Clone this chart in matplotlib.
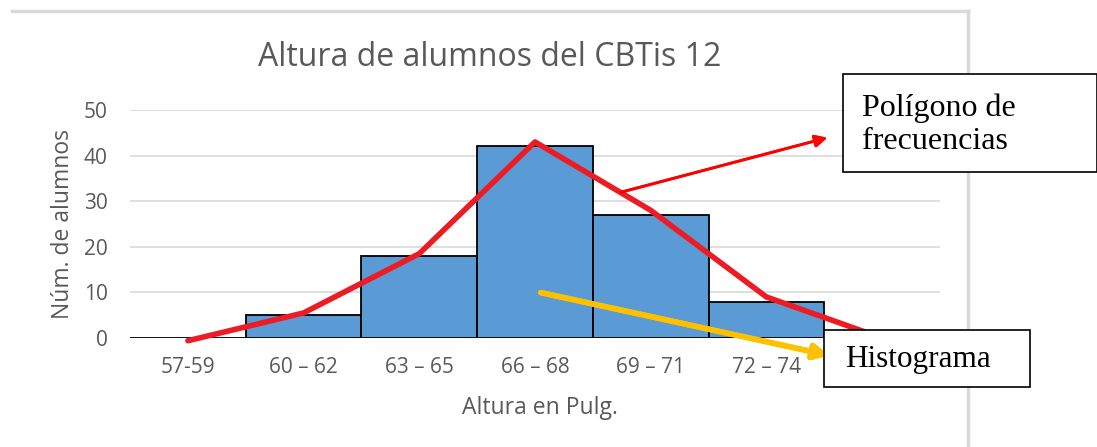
import matplotlib.pyplot as plt
from matplotlib.lines import Line2D

# datos
categorias = ["57-59", "60 – 62", "63 – 65", "66 – 68", "69 – 71", "72 – 74", ""]
frecuencias = [0, 5, 18, 42, 27, 8, 0]
poligono = [-0.6, 5.5, 18.5, 43, 28, 9, 0]

W, H = 1097, 447
fig = plt.figure(figsize=(W / 100, H / 100), dpi=100)
fig.patch.set_facecolor("white")

def fx(px):
    return px / W

def fy(py):
    return 1 - py / H

ax = fig.add_axes([fx(130), fy(338), fx(940) - fx(130), fy(110) - fy(338)])
gris = "#595959"
x = list(range(len(categorias)))

ax.bar(x, frecuencias, width=1.0, color="#5B9BD5", edgecolor="black", linewidth=1.3, zorder=2)
ax.plot(x, poligono, color="#ED1C24", linewidth=4, zorder=3, clip_on=False, solid_capstyle="round")

ax.set_xlim(-0.5, 6.5)
ax.set_ylim(0, 50)
ax.set_yticks([0, 10, 20, 30, 40, 50])
ax.set_xticks(x)
ax.set_xticklabels(categorias)
ax.grid(axis="y", color="#D9D9D9", linewidth=1.2, zorder=0)
ax.set_axisbelow(True)
for s in ax.spines.values():
    s.set_visible(False)
ax.tick_params(length=0, colors=gris, labelsize=15)
ax.tick_params(axis="x", pad=14)
ax.tick_params(axis="y", pad=16)
for lbl in ax.get_xticklabels() + ax.get_yticklabels():
    lbl.set_fontfamily("Open Sans")

fig.text(fx(63), fy(224), "Núm. de alumnos", ha="center", va="center", rotation=90,
         fontsize=16.5, color=gris, family="Open Sans")
fig.text(fx(540), fy(408), "Altura en Pulg.", ha="center", va="center",
         fontsize=16.5, color=gris, family="Open Sans")
fig.text(fx(490), fy(57), "Altura de alumnos del CBTis 12", ha="center", va="center",
         fontsize=23, color=gris, family="Open Sans")

# marco del gráfico
fig.add_artist(Line2D([fx(12), fx(968)], [fy(11), fy(11)], color="#D9D9D9", linewidth=2.5))
fig.add_artist(Line2D([fx(968), fx(968)], [fy(11), fy(447)], color="#D9D9D9", linewidth=2.5))

# flechas
fig.add_artist(plt.annotate("", xy=(fx(830), fy(137)), xytext=(fx(618), fy(193)),
                            xycoords="figure fraction", textcoords="figure fraction",
                            arrowprops=dict(arrowstyle="-|>", color="#FF0000", lw=2, mutation_scale=18)))
fig.add_artist(plt.annotate("", xy=(fx(832), fy(356)), xytext=(fx(538), fy(292)),
                            xycoords="figure fraction", textcoords="figure fraction",
                            arrowprops=dict(arrowstyle="-|>", color="#FFC000", lw=4, mutation_scale=22)))

# cuadros de texto
fig.patches.append(plt.Rectangle((fx(843), fy(172)), fx(1097) - fx(843), fy(74) - fy(172),
                                 transform=fig.transFigure, facecolor="white", edgecolor="black",
                                 linewidth=1.2, zorder=5))
fig.text(fx(862), fy(125), "Polígono de\nfrecuencias", ha="left", va="center", fontsize=23,
         family="Liberation Serif", linespacing=1.2, zorder=6)
fig.patches.append(plt.Rectangle((fx(824), fy(387)), fx(1030) - fx(824), fy(330) - fy(387),
                                 transform=fig.transFigure, facecolor="white", edgecolor="black",
                                 linewidth=1.2, zorder=5))
fig.text(fx(845), fy(360), "Histograma", ha="left", va="center", fontsize=22.5,
         family="Liberation Serif", zorder=6)

fig.savefig("out.png", dpi=100)
